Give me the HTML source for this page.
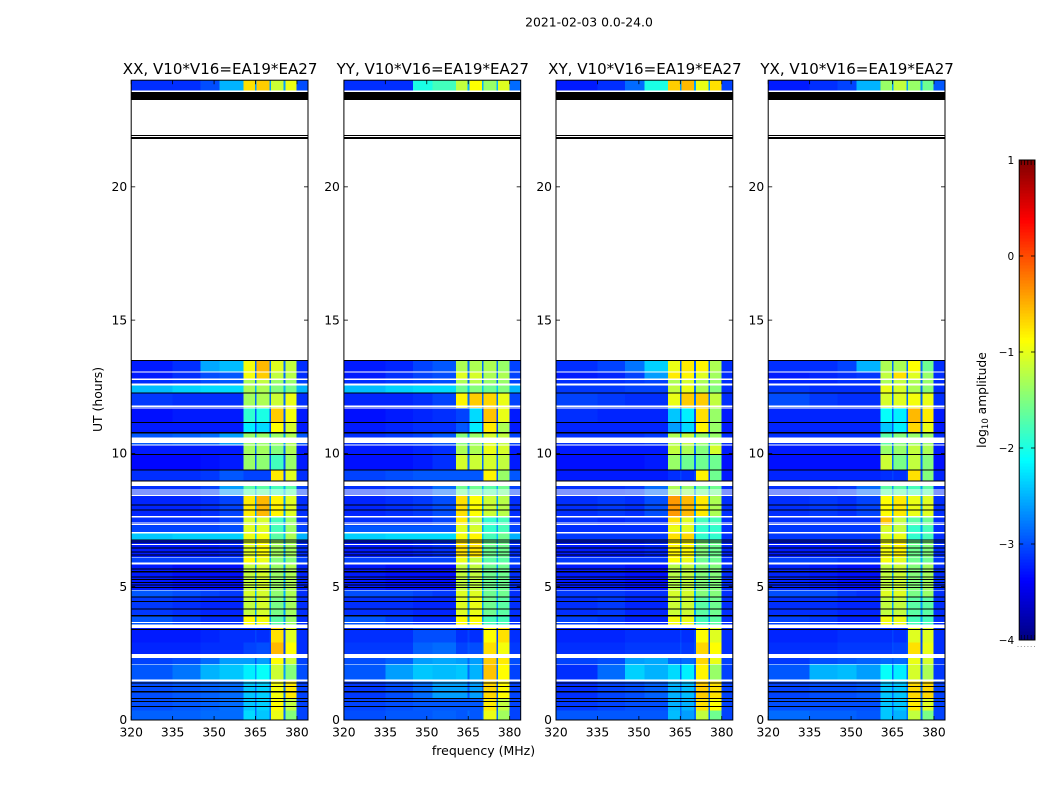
<!DOCTYPE html>
<html>
<head>
<meta charset="utf-8">
<title>2021-02-03 0.0-24.0</title>
<style>
html,body{margin:0;padding:0;background:#fff;}
svg{display:block;}
text{font-family:"DejaVu Sans","Liberation Sans",sans-serif;fill:#000;}
</style>
</head>
<body>
<svg id="figure" xmlns="http://www.w3.org/2000/svg" width="1050" height="800" viewBox="0 0 1050 800">
  <rect x="0" y="0" width="1050" height="800" fill="#ffffff"/>
  <text x="589" y="26.5" font-size="12.4" text-anchor="middle">2021-02-03 0.0-24.0</text>
  <text x="483.5" y="755" font-size="12.5" text-anchor="middle">frequency (MHz)</text>
  <text x="102" y="399.5" font-size="12.4" text-anchor="middle" transform="rotate(-90 102 399.5)">UT (hours)</text>
  <text x="986" y="400" font-size="12.3" text-anchor="middle" transform="rotate(-90 986 400)">log<tspan font-size="8.5" dy="2">10</tspan><tspan dy="-2"> amplitude</tspan></text>
</svg>
<script>
// ---- categories and tick labels ----
const panelTitles = ["XX, V10*V16=EA19*EA27","YY, V10*V16=EA19*EA27","XY, V10*V16=EA19*EA27","YX, V10*V16=EA19*EA27"];
const freqTicks = [320,335,350,365,380];
const hourTicks = [0,5,10,15,20];
const colorTicks = [1,0,-1,-2,-3,-4];
const freqEdges = [320,335,345,352,360.6,364.8,365.4,370,370.6,375.2,375.8,379.9,384];
// time blocks (UT hours, from - to)
const timeBlocks = [
[24,23.6],[13.5,13.08],[13.08,12.8],[12.8,12.55],[12.55,12.26],[12.26,11.72],[11.72,11.16],[11.16,10.78],
[10.78,10.3],[10.3,9.96],[9.96,9.375],[9.375,8.94],[8.94,8.42],[8.42,7.65],[7.65,7.3],[7.3,7.03],[7.03,6.76],
[6.76,6.1],[6.1,5.85],[5.85,4.87],[4.87,4.6],[4.6,3.9],[3.9,3.45],[3.45,2.9],[2.9,2.45],[2.45,2.1],[2.1,1.48],
[1.48,0.8],[0.8,0.35],[0.35,0]];
// flagged (no data, left white) and zero-amplitude (black) time ranges in hours
const whiteGaps = [[23.62,23.55],[13.08,13.03],[12.81,12.76],[12.63,12.55],[11.79,11.75],[11.72,11.68],[10.59,10.39],[10.33,10.29],
[8.94,8.78],[8.64,8.60],[8.57,8.53],[8.50,8.46],[8.44,8.40],[7.65,7.60],[7.40,7.37],[7.35,7.31],[7.05,7.00],[6.61,6.57],
[6.12,6.09],[5.90,5.83],[4.88,4.85],[3.67,3.64],[3.59,3.45],[2.48,2.33],[2.11,2.08],[1.51,1.45]];
const blackRows = [[23.55,23.25],[21.95,21.91],[21.86,21.8],[13.5,13.46],[12.28,12.24],[11.18,11.14],[10.81,10.75],[9.98,9.94],[9.395,9.355],
[8.98,8.94],[8.08,8.04],[7.895,7.855],[6.78,6.74],[6.69,6.65],[6.47,6.43],[6.33,6.29],[6.21,6.17],[5.68,5.64],[5.58,5.54],[5.39,5.35],
[5.29,5.25],[5.18,5.14],[5.08,5.04],[4.99,4.95],[4.64,4.60],[4.46,4.42],[4.18,4.14],[3.93,3.89],[3.42,3.38],[1.41,1.37],[1.27,1.23],
[1.08,1.04],[0.83,0.79],[0.71,0.67],[0.52,0.48]];
// log10 amplitude per block: 320-335,335-345,345-352,352-360.6, sub-band 1,2,3,4, sub-band gap, 380-384
const xxLevels = [
[-3,-3,-2.85,-2.5,-.55,-.45,-.95,-.8,-2.6,-2.85],
[-3.1,-3,-2.55,-2.45,-.75,-.35,-.85,-1,-2.7,-3],
[-3.1,-3,-2.85,-2.8,-.75,-.45,-1,-1.05,-2.7,-3],
[-3,-2.95,-2.85,-2.8,-1.1,-1,-1.2,-1.2,-2.7,-2.9],
[-2.45,-2.35,-2.3,-2.3,-1.1,-1.1,-1.3,-1.35,-2.5,-2.5],
[-2.95,-3,-3,-3,-1.15,-1.1,-.95,-.8,-2.7,-3],
[-3.15,-3.1,-3.1,-3.1,-1.9,-2,-.45,-.75,-2.8,-3.1],
[-3.1,-3.1,-3.1,-3.1,-2.2,-2.3,-.7,-.9,-2.9,-3.1],
[-2.8,-2.75,-2.7,-2.6,-1.2,-1.2,-1.2,-1.1,-2.6,-2.8],
[-3.1,-3.1,-3.1,-3.1,-1.15,-1.15,-1.3,-1.1,-2.7,-3.1],
[-3.2,-3.2,-3.15,-3.1,-1.2,-1.25,-1.8,-1.2,-2.8,-3.1],
[-3,-3,-2.95,-2.8,-2.9,-2.9,-.6,-.85,-2.9,-3],
[-3,-3,-2.9,-2.6,-1.5,-1.5,-1.6,-1.5,-2.5,-2.9],
[-3.05,-3.05,-3,-2.9,-.6,-.35,-.65,-.85,-2.6,-3],
[-3,-3,-3,-2.9,-.9,-.9,-1.6,-1.2,-2.6,-3],
[-2.9,-2.9,-2.9,-2.85,-.85,-.85,-1.6,-1.2,-2.6,-2.9],
[-2.4,-2.35,-2.35,-2.35,-.8,-.75,-1.5,-1.1,-2.4,-2.5],
[-3.1,-3.1,-3.1,-3.05,-.85,-.7,-1.15,-1.15,-2.6,-3],
[-2.9,-2.9,-2.9,-2.9,-.7,-.8,-1.3,-1.3,-2.5,-2.9],
[-3.1,-3.15,-3.15,-3.15,-1,-.9,-1.2,-1.1,-2.6,-3.05],
[-2.8,-2.85,-2.9,-2.95,-.9,-.9,-1.25,-1.1,-2.5,-3],
[-2.95,-3,-3.05,-3.05,-1,-.9,-1.35,-1.15,-2.6,-3],
[-2.8,-2.9,-3,-3,-.7,-.75,-1.5,-1.2,-2.6,-3],
[-3.1,-3.1,-3.05,-3,-3,-3,-.55,-.85,-2.9,-3],
[-3.05,-3.05,-3,-3,-2.9,-2.85,-.35,-.7,-2.9,-3],
[-2.9,-2.85,-2.7,-2.6,-2.6,-2.6,-.7,-.95,-2.8,-2.9],
[-2.8,-2.65,-2.5,-2.4,-2.2,-2.1,-.95,-1.3,-2.6,-2.85],
[-2.85,-2.8,-2.75,-2.7,-2.4,-2.35,-.75,-.6,-2.7,-2.9],
[-2.85,-2.8,-2.75,-2.7,-2.4,-2.35,-.7,-1,-2.7,-2.9],
[-2.75,-2.75,-2.7,-2.7,-2.3,-2.4,-.8,-1.3,-2.7,-2.9]];
const yyLevels = [
[-3,-3,-2,-1.8,-1,-.7,-1.2,-.85,-2.5,-2.7],
[-3.1,-3.05,-2.9,-2.8,-1.1,-1.1,-1.1,-1.2,-2.7,-2.9],
[-3.1,-3,-2.9,-2.85,-.85,-.9,-1.1,-1.1,-2.7,-2.9],
[-3,-2.95,-2.9,-2.85,-1.1,-1.05,-1.2,-1.2,-2.7,-2.9],
[-2.45,-2.35,-2.3,-2.3,-1.4,-1.3,-1.4,-1.3,-2.4,-2.5],
[-3.05,-3.05,-3,-2.9,-.65,-.45,-.5,-.8,-2.7,-2.9],
[-3.15,-3.1,-3.05,-3,-2.9,-2.3,-.4,-.8,-2.9,-3.1],
[-3.1,-3.05,-3,-3,-2.8,-2.2,-.6,-1.1,-2.9,-3.1],
[-3,-2.95,-2.9,-2.8,-1.3,-1.2,-.9,-1,-2.6,-2.9],
[-3.1,-3.1,-3.05,-3,-1.1,-1.1,-.8,-.9,-2.7,-3.1],
[-3.15,-3.15,-3.1,-3,-.9,-.95,-.9,-1,-2.7,-3.1],
[-2.9,-2.85,-2.8,-2.8,-2.8,-2.8,-.65,-1.2,-2.8,-2.8],
[-3,-2.95,-2.9,-2.7,-1.4,-1.4,-1.5,-1.4,-2.5,-2.9],
[-3.05,-3,-2.95,-2.85,-.55,-.7,-.95,-1.05,-2.6,-3],
[-3,-3,-3,-2.9,-.6,-1,-1.7,-1.6,-2.6,-3],
[-2.8,-2.8,-2.8,-2.8,-.85,-.9,-1.7,-1.6,-2.6,-2.9],
[-2.35,-2.3,-2.3,-2.3,-.75,-.65,-1.6,-1.4,-2.4,-2.5],
[-3.1,-3.1,-3.05,-3,-.55,-.55,-1.4,-1.4,-2.6,-3],
[-2.9,-2.9,-2.9,-2.9,-.8,-1,-1.5,-1.5,-2.5,-2.9],
[-3.1,-3.15,-3.15,-3.15,-1,-1,-1.4,-1.4,-2.6,-3],
[-2.85,-2.85,-2.9,-2.95,-.85,-.85,-1.4,-1.4,-2.5,-3],
[-3,-3,-3.05,-3.05,-.85,-.8,-1.4,-1.5,-2.6,-3],
[-2.8,-2.9,-3,-3,-.7,-.7,-1.6,-1.6,-2.6,-3],
[-3,-3,-2.85,-2.85,-3,-3,-.7,-.55,-2.9,-3],
[-2.95,-2.95,-2.75,-2.7,-2.9,-2.85,-.55,-.75,-2.8,-2.95],
[-2.85,-2.75,-2.6,-2.55,-2.6,-2.6,-.45,-.6,-2.7,-2.85],
[-2.8,-2.6,-2.4,-2.45,-2.4,-2.5,-.4,-.7,-2.7,-2.9],
[-2.95,-2.85,-2.7,-2.6,-2.6,-2.6,-.5,-.7,-2.8,-2.9],
[-2.9,-2.85,-2.8,-2.8,-2.8,-2.8,-.6,-1,-2.8,-2.9],
[-2.85,-2.8,-2.8,-2.75,-2.8,-2.8,-.8,-1.15,-2.7,-2.9]];
const xyLevels = [
[-3.1,-3,-2.7,-2,-.45,-.35,-.8,-.55,-2.6,-2.9],
[-3,-2.9,-2.65,-2.35,-.8,-.6,-.65,-1.1,-2.8,-3],
[-3.1,-3.05,-2.9,-2.6,-.6,-.65,-.85,-1.15,-2.8,-3],
[-3,-3,-2.95,-2.9,-1.1,-.9,-1.1,-1.2,-2.7,-3],
[-2.95,-2.95,-2.9,-2.9,-1,-.8,-1.1,-1.3,-2.7,-3],
[-2.9,-2.95,-3,-3,-.8,-.45,-.45,-1,-2.7,-3],
[-3,-3.05,-3.05,-3.05,-2.4,-2.2,-.55,-1.2,-2.8,-3.1],
[-3.05,-3.05,-3.05,-3.05,-2.6,-2.3,-.65,-1.2,-2.9,-3.1],
[-3,-3,-3,-2.95,-1.1,-1,-1.2,-1.2,-2.6,-3],
[-3.1,-3.1,-3.1,-3.1,-1,-1.1,-1.3,-.9,-2.7,-3.1],
[-3.15,-3.15,-3.15,-3.1,-1.2,-1.4,-1.4,-1.4,-2.7,-3.15],
[-3.1,-3.1,-3.1,-3.1,-3,-3,-.65,-1.4,-2.9,-3.1],
[-3,-3,-2.95,-2.7,-1.1,-1.2,-1.4,-1.4,-2.6,-3],
[-3,-2.95,-3,-2.85,-.2,-.35,-.6,-1.1,-2.6,-3],
[-3,-3.05,-3,-3,-.55,-.85,-1.6,-1.6,-2.6,-3],
[-3,-3,-3,-3,-.8,-.85,-1.7,-1.7,-2.6,-3],
[-2.95,-2.95,-2.95,-2.95,-.55,-.5,-1.7,-1.7,-2.6,-3],
[-3.1,-3.1,-3.1,-3.05,-.65,-.7,-1.3,-1.4,-2.6,-3.05],
[-2.95,-2.95,-2.95,-2.95,-.7,-.8,-1.4,-1.4,-2.6,-3],
[-3.1,-3.1,-3.15,-3.15,-1.05,-1,-1.3,-1.3,-2.6,-3],
[-2.95,-2.95,-3,-3,-.9,-.9,-1.3,-1.3,-2.5,-3],
[-3,-2.95,-3.05,-3.05,-.95,-.95,-1.5,-1.4,-2.6,-3],
[-2.9,-2.95,-3.05,-3.05,-.75,-.8,-1.6,-1.5,-2.6,-3],
[-3.05,-3.05,-3,-3,-3,-3,-.7,-.85,-2.9,-3],
[-3,-3,-2.95,-2.95,-2.95,-2.95,-.5,-.7,-2.85,-3],
[-2.9,-2.85,-2.6,-2.55,-2.7,-2.7,-.5,-.8,-2.8,-2.9],
[-3,-2.7,-2.35,-2.5,-2.3,-2.2,-.65,-1.2,-2.7,-2.9],
[-3,-2.9,-2.85,-2.75,-2.5,-2.45,-.45,-.55,-2.7,-2.9],
[-2.95,-2.9,-2.85,-2.85,-2.5,-2.5,-.55,-.7,-2.7,-2.9],
[-2.8,-2.8,-2.8,-2.8,-2.45,-2.6,-1,-1.4,-2.7,-2.9]];
const yxLevels = [
[-3.1,-3,-2.9,-2.5,-1.2,-1,-1.2,-1.4,-2.6,-2.8],
[-3,-3,-2.9,-2.5,-1.1,-1.1,-.7,-1.4,-2.7,-3],
[-3.1,-3.05,-3,-2.95,-1,-.55,-.85,-1.2,-2.7,-3],
[-3.05,-3.05,-3,-3,-1.1,-1,-1.1,-1.2,-2.7,-3],
[-2.95,-3,-3,-3,-.8,-.9,-1.1,-1.25,-2.7,-3],
[-2.85,-2.95,-3,-3,-.9,-.85,-.75,-.8,-2.7,-3],
[-3.05,-3.05,-3.05,-3.05,-2.1,-2.2,-.35,-.6,-2.8,-3.1],
[-3.05,-3.05,-3.05,-3.05,-2.4,-2.2,-.5,-.8,-2.8,-3.1],
[-3,-3,-3,-3,-1.5,-1.3,-1.2,-1.2,-2.7,-3],
[-3.1,-3.1,-3.1,-3.1,-1.2,-1.2,-1,-1.1,-2.7,-3.1],
[-3.15,-3.15,-3.15,-3.15,-.95,-1.35,-1,-1.3,-2.7,-3.15],
[-3.05,-3.05,-3.05,-3.05,-3,-3,-.55,-1.3,-2.9,-3.05],
[-3,-3,-2.95,-2.7,-1.5,-1.5,-1.6,-1.5,-2.6,-3],
[-3,-2.95,-3,-2.9,-.7,-.6,-.8,-.85,-2.6,-3],
[-3,-3,-3,-3,-.4,-1,-1.5,-1.4,-2.6,-3],
[-2.95,-2.95,-2.95,-2.95,-.9,-1,-1.7,-1.6,-2.6,-3],
[-2.95,-2.95,-2.95,-2.95,-.85,-.8,-1.7,-1.6,-2.6,-3],
[-3.1,-3.1,-3.1,-3.1,-.75,-.65,-1.4,-1.3,-2.6,-3],
[-2.9,-2.9,-2.95,-2.95,-.75,-.85,-1.4,-1.4,-2.5,-2.95],
[-3.05,-3.1,-3.15,-3.15,-1,-.95,-1.3,-1.15,-2.6,-3],
[-2.85,-2.85,-2.95,-3,-.85,-.85,-1.35,-1.2,-2.5,-3],
[-3,-3,-3.05,-3.05,-1,-1,-1.5,-1.5,-2.6,-3],
[-2.9,-2.95,-3.05,-3.05,-.75,-.8,-1.6,-1.6,-2.6,-3],
[-3.05,-3.05,-3,-3,-3,-3,-.85,-.85,-2.9,-3],
[-3,-3,-2.95,-2.95,-2.95,-2.9,-.55,-.8,-2.85,-3],
[-2.95,-2.85,-2.8,-2.75,-2.7,-2.7,-.8,-.9,-2.8,-2.95],
[-2.8,-2.5,-2.45,-2.6,-2.1,-2.2,-.9,-1.1,-2.7,-2.95],
[-2.9,-2.85,-2.85,-2.8,-2.4,-2.4,-.5,-.5,-2.7,-2.9],
[-2.85,-2.85,-2.85,-2.85,-2.4,-2.4,-.6,-.85,-2.7,-2.9],
[-2.7,-2.75,-2.75,-2.8,-2.4,-2.5,-1,-1.35,-2.7,-2.9]];
const panelLevels = [xxLevels,yyLevels,xyLevels,yxLevels];
// which level column fills each frequency segment of freqEdges
const segmentColumn = [0,1,2,3,4,8,5,8,6,8,7,9];

// ---- layout and axis functions ----
const svgNS = "http://www.w3.org/2000/svg";
const fig = document.getElementById("figure");
const panelLefts = [131.2,343.9,556,768.2];
const panelWidth = 176.8, plotTop = 80.2, plotBottom = 720;
const freqMin = 320, freqMax = 384, hourMin = 0, hourMax = 24, cMin = -4, cMax = 1;
const cbarLeft = 1019.2, cbarRight = 1035, cbarTop = 160, cbarBottom = 640;
function xScale(panel, f){ return panelLefts[panel] + (f - freqMin) / (freqMax - freqMin) * panelWidth; }
function yScale(h){ return plotBottom - (h - hourMin) / (hourMax - hourMin) * (plotBottom - plotTop); }
function cScale(v){ return cbarBottom - (v - cMin) / (cMax - cMin) * (cbarBottom - cbarTop); }
function clip01(x){ return Math.max(0, Math.min(1, x)); }
function jet(v){
  const t = clip01((v - cMin) / (cMax - cMin));
  const r = clip01(1.5 - Math.abs(4*t - 3));
  const g = clip01(1.5 - Math.abs(4*t - 2));
  const b = clip01(1.5 - Math.abs(4*t - 1));
  return "rgb(" + Math.round(r*255) + "," + Math.round(g*255) + "," + Math.round(b*255) + ")";
}
function calibrate(v){
  if (v < -2.6) return v - 0.15;
  if (v > -1.8) return v - 0.18;
  return v;
}
function make(tag, attrs, parent){
  const el = document.createElementNS(svgNS, tag);
  for (const k in attrs) el.setAttribute(k, attrs[k]);
  parent.appendChild(el);
  return el;
}
function minus(v){ return String(v).replace("-", "\u2212"); }

panelTitles.forEach(function(title, p){
  const g = make("g", {}, fig);
  
  
  const heat = make("g", {"shape-rendering":"crispEdges"}, g);
  
  
  timeBlocks.forEach(function(block, b){
    const y0 = yScale(block[0]), y1 = yScale(block[1]);
    segmentColumn.forEach(function(col, s){
      const x0 = xScale(p, freqEdges[s]), x1 = xScale(p, freqEdges[s+1]);
      const cell = make("rect", {x:x0, y:y0, width:x1-x0, height:y1-y0, fill:jet(calibrate(panelLevels[p][b][col]))}, heat);
      
      
    });
  });
  whiteGaps.forEach(function(gap){
    const r = make("rect", {x:xScale(p,freqMin), y:yScale(gap[0]), width:panelWidth, height:yScale(gap[1])-yScale(gap[0]), fill:"#ffffff"}, heat);
    
    
  });
  blackRows.forEach(function(row){
    const r = make("rect", {x:xScale(p,freqMin), y:yScale(row[0]), width:panelWidth, height:yScale(row[1])-yScale(row[0]), fill:"#000000"}, heat);
    
    
  });
  const frame = make("rect", {x:panelLefts[p], y:plotTop, width:panelWidth, height:plotBottom-plotTop, fill:"none", stroke:"#000", "stroke-width":1}, g);
  
  
  const t = make("text", {x:panelLefts[p]+panelWidth/2+0.5, y:74, "font-size":15.05, "text-anchor":"middle"}, g);
  
  
  t.textContent = title;
  freqTicks.forEach(function(f){
    const x = xScale(p, f);
    const a = make("line", {x1:x, x2:x, y1:plotBottom, y2:plotBottom-4, stroke:"#000", "stroke-width":0.8}, g);
    
    
    const c = make("line", {x1:x, x2:x, y1:plotTop, y2:plotTop+4, stroke:"#000", "stroke-width":0.8}, g);
    
    
    const l = make("text", {x:x, y:736.5, "font-size":12.3, "text-anchor":"middle"}, g);
    
    
    l.textContent = f;
  });
  hourTicks.forEach(function(h){
    const y = yScale(h);
    const a = make("line", {x1:panelLefts[p], x2:panelLefts[p]+4, y1:y, y2:y, stroke:"#000", "stroke-width":0.8}, g);
    
    
    const c = make("line", {x1:panelLefts[p]+panelWidth, x2:panelLefts[p]+panelWidth-4, y1:y, y2:y, stroke:"#000", "stroke-width":0.8}, g);
    
    
    const l = make("text", {x:panelLefts[p]-4, y:y+4.2, "font-size":12.3, "text-anchor":"end"}, g);
    
    
    l.textContent = h;
  });
});

// ---- colorbar ----
const cbar = make("g", {}, fig);


const cbarFill = make("g", {"shape-rendering":"crispEdges"}, cbar);


const cbarSteps = 160;
for (let i = 0; i < cbarSteps; i++){
  const v0 = cMin + (cMax - cMin) * i / cbarSteps;
  const v1 = cMin + (cMax - cMin) * (i + 1) / cbarSteps;
  const swatch = make("rect", {x:cbarLeft, y:cScale(v1), width:cbarRight-cbarLeft, height:cScale(v0)-cScale(v1)+0.5, fill:jet((v0+v1)/2)}, cbarFill);
  
  
}
const cbarFrame = make("rect", {x:cbarLeft, y:cbarTop, width:cbarRight-cbarLeft, height:cbarBottom-cbarTop, fill:"none", stroke:"#000", "stroke-width":1}, cbar);


colorTicks.forEach(function(v){
  const y = cScale(v);
  const a = make("line", {x1:cbarLeft, x2:cbarLeft+4, y1:y, y2:y, stroke:"#000", "stroke-width":0.8}, cbar);
  
  
  const b = make("line", {x1:cbarRight, x2:cbarRight-4, y1:y, y2:y, stroke:"#000", "stroke-width":0.8}, cbar);
  
  
  const l = make("text", {x:cbarLeft-5, y:y+4, "font-size":10.5, "text-anchor":"end"}, cbar);
  
  
  l.textContent = minus(v);
});
for (let i = 0; i < 5; i++){
  const x = cbarLeft + 2 + i * 3.3;
  const top = make("line", {x1:x, x2:x, y1:cbarTop, y2:cbarTop+5, stroke:"#000", "stroke-width":0.8}, cbar);
  
  
  const bottom = make("line", {x1:x, x2:x, y1:cbarBottom, y2:cbarBottom-5, stroke:"#000", "stroke-width":0.6}, cbar);
  
  
}
for (let i = 0; i < 6; i++){
  const dot = make("rect", {x:1017.5 + i * 3.3, y:646, width:1, height:1, fill:"#999"}, cbar);
  
  
}
</script>
</body>
</html>
